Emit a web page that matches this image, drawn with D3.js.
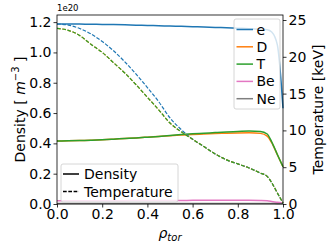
<!DOCTYPE html>
<html>
<head>
<meta charset="utf-8">
<script src="https://cdn.jsdelivr.net/npm/d3@7"></script>
<style>
  body { margin: 0; background: #fff; }
  svg { font-family: "DejaVu Sans", sans-serif; }
</style>
</head>
<body>
<svg id="chart" width="332" height="249"></svg>
<script>
// radial grid (rho_tor)
const rho = [0, 0.05, 0.1, 0.15, 0.2, 0.25, 0.3, 0.35, 0.4, 0.45, 0.5, 0.55, 0.6, 0.65, 0.7, 0.75, 0.8, 0.85, 0.9, 0.93, 0.95, 0.975, 1.0];

// densities [1e20 m^-3]
const nE  = [1.188, 1.188, 1.187, 1.186, 1.185, 1.184, 1.182, 1.180, 1.178, 1.176, 1.174, 1.172, 1.170, 1.168, 1.165, 1.163, 1.160, 1.157, 1.153, 1.150, 1.135, 1.050, 0.632];
const nD  = [0.416, 0.417, 0.419, 0.421, 0.424, 0.428, 0.432, 0.436, 0.441, 0.446, 0.451, 0.455, 0.459, 0.462, 0.465, 0.467, 0.469, 0.470, 0.466, 0.448, 0.405, 0.325, 0.246];
const nT  = [0.416, 0.417, 0.419, 0.421, 0.424, 0.428, 0.432, 0.436, 0.441, 0.446, 0.452, 0.458, 0.463, 0.467, 0.471, 0.475, 0.478, 0.481, 0.479, 0.462, 0.410, 0.327, 0.246];
const nBe = [0.021, 0.021, 0.021, 0.022, 0.022, 0.022, 0.022, 0.023, 0.023, 0.023, 0.023, 0.023, 0.024, 0.024, 0.024, 0.024, 0.024, 0.024, 0.023, 0.021, 0.017, 0.011, 0.006];
const nNe = [0.004, 0.004, 0.004, 0.004, 0.004, 0.004, 0.004, 0.004, 0.004, 0.004, 0.004, 0.004, 0.004, 0.004, 0.004, 0.004, 0.004, 0.004, 0.004, 0.004, 0.003, 0.002, 0.001];

// temperatures [keV]
const tE  = [24.46, 24.31, 23.85, 23.11, 22.09, 20.82, 19.32, 17.64, 15.82, 13.9, 11.7, 10.1, 8.8, 7.8, 6.8, 6.0, 5.45, 4.9, 4.2, 3.75, 2.9, 1.5, 0.15];
const tI  = [23.85, 23.6, 22.9, 21.7, 20.6, 19.2, 17.8, 16.2, 14.5, 12.8, 11.0, 9.8, 8.8, 7.8, 6.8, 6.0, 5.45, 4.9, 4.2, 3.75, 2.9, 1.5, 0.15];

const species = ["e", "D", "T", "Be", "Ne"];
const colors = ["#1f77b4", "#ff7f0e", "#2ca02c", "#e377c2", "#7f7f7f"];
const densities = [nE, nD, nT, nBe, nNe];
const temps = [tE, tI, tI, null, null];

const xTicks = [0, 0.2, 0.4, 0.6, 0.8, 1.0];
const nTicks = [0, 0.2, 0.4, 0.6, 0.8, 1.0, 1.2];
const tTicks = [0, 5, 10, 15, 20, 25];

const pL = 57, pR = 283, pT = 15, pB = 204;
const svg = d3.select("#chart");

const x = d3.scaleLinear().domain([0, 1]).range([pL, pR]);
const yN = d3.scaleLinear().domain([0, 1.247]).range([pB, pT]);
const yT = d3.scaleLinear().domain([0, 25.68]).range([pB, pT]);

const plot = svg.append("g");

// density lines (solid)
densities.forEach((arr, i) => {
    const line = d3.line().x((d, j) => x(rho[j])).y(d => yN(d)).curve(d3.curveMonotoneX);
    plot.append("path")
        .attr("d", line(arr))
        .attr("fill", "none")
        .attr("stroke", colors[i])
        .attr("stroke-width", 1.5);
});

// temperature lines (dashed)
temps.forEach((arr, i) => {
    if (!arr) return;
    const line = d3.line().x((d, j) => x(rho[j])).y(d => yT(d)).curve(d3.curveMonotoneX);
    plot.append("path")
        .attr("d", line(arr))
        .attr("fill", "none")
        .attr("stroke", colors[i])
        .attr("stroke-width", 1.2)
        .attr("stroke-dasharray", "3.7,1.6");
});

// axes
const fs = 14;
const ax = svg.append("g").attr("transform", `translate(0,${pB})`)
    .call(d3.axisBottom(x).tickValues(xTicks).tickFormat(d3.format(".1f")).tickSize(3.5).tickPadding(2));
const ayl = svg.append("g").attr("transform", `translate(${pL},0)`)
    .call(d3.axisLeft(yN).tickValues(nTicks).tickFormat(d3.format(".1f")).tickSize(3.5).tickPadding(2));
const ayr = svg.append("g").attr("transform", `translate(${pR},0)`)
    .call(d3.axisRight(yT).tickValues(tTicks).tickFormat(d3.format("d")).tickSize(3.5).tickPadding(2));
[ax, ayl, ayr].forEach(g => {
    g.select(".domain").remove();
    g.selectAll("text").attr("font-size", fs).attr("font-family", "DejaVu Sans").attr("fill", "#000");
    g.selectAll("line").attr("stroke", "#000").attr("stroke-width", 0.8);
});

svg.append("rect")
    .attr("x", pL).attr("y", pT)
    .attr("width", pR - pL).attr("height", pB - pT)
    .attr("fill", "none").attr("stroke", "#000").attr("stroke-width", 0.8);

// offset text
svg.append("text").attr("x", pL).attr("y", 11)
    .attr("font-size", 8.5).text("1e20");

// axis labels
const yl = svg.append("text")
    .attr("transform", `translate(25,${(pT + pB) / 2}) rotate(-90)`)
    .attr("text-anchor", "middle").attr("font-size", fs);
yl.append("tspan").text("Density [ ");
yl.append("tspan").attr("font-style", "italic").text("m");
yl.append("tspan").attr("font-size", 10).attr("dy", -6).text("−3");
yl.append("tspan").attr("dy", 6).text(" ]");

svg.append("text")
    .attr("transform", `translate(323,${(pT + pB) / 2}) rotate(-90)`)
    .attr("text-anchor", "middle").attr("font-size", fs)
    .text("Temperature [keV]");

const xl = svg.append("text")
    .attr("x", (pL + pR) / 2).attr("y", 238)
    .attr("text-anchor", "middle").attr("font-size", fs).attr("font-style", "italic");
xl.append("tspan").text("ρ");
xl.append("tspan").attr("font-size", 10).attr("dy", 3).text("tor");

// species legend
const lg1 = svg.append("g").attr("transform", "translate(234,19)");
lg1.append("rect").attr("width", 46).attr("height", 90).attr("rx", 2)
    .attr("fill", "#fff").attr("fill-opacity", 0.8).attr("stroke", "#ccc").attr("stroke-width", 0.8);
species.forEach((s, i) => {
    const yy = 10.5 + i * 17.3;
    lg1.append("line").attr("x1", 2.5).attr("x2", 19).attr("y1", yy).attr("y2", yy)
        .attr("stroke", colors[i]).attr("stroke-width", 1.5);
    lg1.append("text").attr("x", 22.5).attr("y", yy + 5).attr("font-size", fs).text(s);
});

// style legend
const lg2 = svg.append("g").attr("transform", "translate(61,164)");
lg2.append("rect").attr("width", 117).attr("height", 38).attr("rx", 2)
    .attr("fill", "#fff").attr("fill-opacity", 0.8).attr("stroke", "#ccc").attr("stroke-width", 0.8);
[["Density", null], ["Temperature", "3.7,1.6"]].forEach((d, i) => {
    const yy = 10 + i * 17.5;
    lg2.append("line").attr("x1", 2).attr("x2", 18).attr("y1", yy).attr("y2", yy)
        .attr("stroke", "#000").attr("stroke-width", 1.5).attr("stroke-dasharray", d[1]);
    lg2.append("text").attr("x", 23).attr("y", yy + 5).attr("font-size", fs).text(d[0]);
});
</script>
</body>
</html>
